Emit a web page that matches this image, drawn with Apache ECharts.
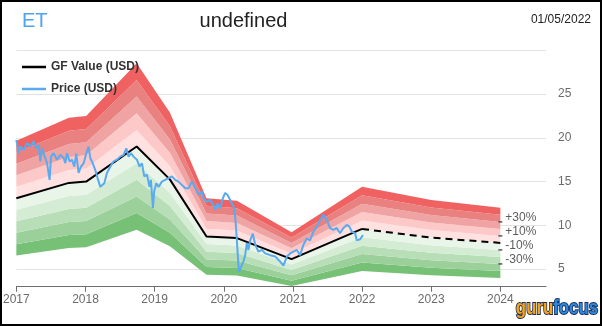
<!DOCTYPE html>
<html>
<head>
<meta charset="utf-8">
<script src="https://cdn.jsdelivr.net/npm/echarts@6/dist/echarts.min.js"></script>
<style>
  html, body { margin: 0; padding: 0; background: #fff; }
  #wrap { position: relative; width: 602px; height: 326px; }
  #chart { position: absolute; left: 0; top: 0; width: 602px; height: 326px; }
  #frame { position: absolute; left: 0; top: 0; width: 602px; height: 326px;
           box-sizing: border-box; border: 2px solid #000; pointer-events: none; }
</style>
</head>
<body>
<div id="wrap">
  <div id="chart"></div>
  <div id="frame"></div>
</div>
<script>
// Ticker, heading and snapshot date
const ticker = 'ET';
const heading = 'undefined';
const asOfDate = '01/05/2022';

// GF Value history (decimal years) and its projection
const gfYears = [2017.0, 2017.76, 2018.01, 2018.74, 2019.22, 2019.75, 2020.19, 2020.98, 2022.0];
const gfValues = [13.1, 14.85, 15.0, 19.0, 15.25, 8.74, 8.55, 6.15, 9.6];
const gfProjYears = [2022.0, 2023.0, 2024.0];
const gfProjValues = [9.6, 8.6, 8.0];

// Share price (decimal years / USD)
const priceYears = [
  2017.000, 2017.033, 2017.058, 2017.105, 2017.155, 2017.202, 2017.250, 2017.289, 2017.322, 2017.347,
  2017.371, 2017.395, 2017.444, 2017.481, 2017.501, 2017.539, 2017.588, 2017.636, 2017.684, 2017.708,
  2017.733, 2017.770, 2017.805, 2017.838, 2017.867, 2017.900, 2017.935, 2017.973, 2018.012, 2018.045,
  2018.069, 2018.094, 2018.142, 2018.175, 2018.214, 2018.238, 2018.272, 2018.311, 2018.358, 2018.406,
  2018.455, 2018.503, 2018.551, 2018.590, 2018.623, 2018.658, 2018.695, 2018.744, 2018.782, 2018.816,
  2018.850, 2018.889, 2018.926, 2018.946, 2018.975, 2018.994, 2019.023, 2019.056, 2019.105, 2019.153,
  2019.201, 2019.250, 2019.298, 2019.345, 2019.395, 2019.442, 2019.490, 2019.539, 2019.587, 2019.634,
  2019.684, 2019.707, 2019.746, 2019.803, 2019.851, 2019.876, 2019.909, 2019.948, 2019.987, 2020.020,
  2020.053, 2020.092, 2020.140, 2020.165, 2020.179, 2020.198, 2020.218, 2020.237, 2020.262, 2020.285,
  2020.309, 2020.334, 2020.357, 2020.382, 2020.420, 2020.454, 2020.501, 2020.551, 2020.598, 2020.671,
  2020.743, 2020.815, 2020.863, 2020.912, 2020.960, 2021.007, 2021.056, 2021.104, 2021.152, 2021.201,
  2021.249, 2021.296, 2021.345, 2021.393, 2021.441, 2021.490, 2021.538, 2021.585, 2021.634, 2021.682,
  2021.730, 2021.779, 2021.816, 2021.851, 2021.899, 2021.923, 2021.971, 2022.013
];
const priceValues = [
  19.76, 18.24, 19.0, 18.6, 19.4, 19.0, 19.6, 18.8, 19.2, 17.3,
  18.8, 18.2, 17.1, 15.2, 17.85, 18.24, 17.5, 18.05, 17.7, 17.1,
  18.24, 17.3, 17.5, 16.7, 18.2, 16.0, 16.7, 17.1, 18.24, 19.0,
  17.7, 17.3, 16.3, 15.4, 14.4, 14.2, 14.8, 16.0, 16.7, 17.3,
  17.5, 17.85, 18.05, 18.8, 17.85, 18.24, 17.85, 17.5, 16.7, 17.1,
  15.6, 15.8, 14.4, 15.2, 12.0, 13.9, 14.8, 14.4, 15.0, 15.2,
  15.4, 15.6, 15.2, 15.0, 14.6, 14.25, 14.25, 15.0, 14.25, 13.5,
  13.86, 13.1, 12.7, 12.9, 12.3, 11.8, 12.5, 11.96, 13.1, 13.7,
  13.5, 12.9, 12.15, 11.0, 9.5, 7.2, 4.7, 4.9, 5.5, 5.9,
  6.6, 8.0, 7.2, 8.3, 9.05, 7.8, 7.0, 7.2, 6.8, 6.6,
  6.44, 5.87, 5.4, 6.44, 6.8, 7.0, 7.2, 6.6, 7.8, 8.5,
  8.3, 9.3, 9.86, 10.6, 11.2, 10.6, 9.7, 9.5, 9.7, 9.1,
  9.7, 10.06, 9.86, 9.3, 9.1, 8.3, 8.4, 8.9
];

// Valuation bands: multiples of GF Value from 0.5x to 1.5x in 0.1 steps
const bandBase = 0.5;
const bandStep = 0.1;
const bandColors = [
  '#77c177', '#9bd09b', '#b7deb7', '#d3ecd3', '#e9f5e9',
  '#ffe1e1', '#fcc8c8', '#f0a3a3', '#e98181', '#f06262'
];
const bandLabelFactors = [1.3, 1.1, 0.9, 0.7];
const bandLabels = ['+30%', '+10%', '-10%', '-30%'];

// Axis ticks
const yearTicks = [2017, 2018, 2019, 2020, 2021, 2022, 2023, 2024];
const valueTicks = [5, 10, 15, 20, 25];
const xStart = 2017;
const xEnd = 2024.66;

const chart = echarts.init(document.getElementById('chart'), null, { renderer: 'canvas' });

// Combined GF node list used for the band envelope
const bandYears = gfYears.concat(gfProjYears.slice(1));
const bandGf = gfValues.concat(gfProjValues.slice(1));

// Band rows are stored as [value, year] so the stack runs on the value dimension
const bandSeries = [{
  name: 'band-base', type: 'line', stack: 'bands', symbol: 'none', silent: true,
  encode: { x: 1, y: 0 },
  lineStyle: { opacity: 0 },
  data: bandYears.map((y, i) => [bandGf[i] * bandBase, y])
}];
bandColors.forEach((c, k) => {
  bandSeries.push({
    name: 'band-' + k, type: 'line', stack: 'bands', symbol: 'none', silent: true,
    encode: { x: 1, y: 0 },
    lineStyle: { opacity: 0 },
    areaStyle: { color: c, opacity: 1 },
    data: bandYears.map((y, i) => [bandGf[i] * bandStep, y])
  });
});

const lastYear = gfProjYears[gfProjYears.length - 1];
const lastGf = gfProjValues[gfProjValues.length - 1];

const font = 'Arial, "Liberation Sans", sans-serif';

chart.setOption({
  animation: false,
  textStyle: { fontFamily: font },
  grid: { left: 16, right: 56, top: 50.2, bottom: 39.3, containLabel: false },
  xAxis: {
    type: 'value', min: xStart, max: xEnd,
    axisLine: { show: true, lineStyle: { color: '#6e6e6e', width: 1 } },
    axisTick: { show: true, length: 5, customValues: yearTicks, lineStyle: { color: '#6e6e6e' } },
    axisLabel: { customValues: yearTicks, color: '#6b6b6b', fontSize: 12, margin: 7,
                 formatter: v => String(v) },
    splitLine: { show: false }
  },
  yAxis: {
    type: 'value', position: 'right', min: 3, max: 30,
    axisLine: { show: false }, axisTick: { show: false },
    axisLabel: { customValues: valueTicks, color: '#6b6b6b', fontSize: 12, margin: 12 },
    splitLine: { show: true, lineStyle: { color: '#e3e3e3', width: 1 } }
  },
  legend: {
    orient: 'vertical', left: 22, top: 60, padding: 0, itemWidth: 24, itemHeight: 2.5, itemGap: 8,
    icon: 'rect',
    textStyle: { fontSize: 12, fontWeight: 'bold', color: '#333', lineHeight: 14 },
    data: ['GF Value (USD)', 'Price (USD)'],
    selectedMode: false
  },
  graphic: [
    { type: 'text', left: 22, top: 11, style: { text: ticker, fill: '#4ea3f1', font: '20px ' + font } },
    { type: 'text', x: 243.5, y: 21, style: { text: heading, fill: '#222', font: '20px ' + font,
      textAlign: 'center', textVerticalAlign: 'middle' } },
    { type: 'text', x: 591, y: 19.5, style: { text: asOfDate, fill: '#222', font: '12px ' + font,
      textAlign: 'right', textVerticalAlign: 'middle' } },
    // brand mark, horizontally condensed
    { type: 'text', x: 598, y: 308, scaleX: 0.8, scaleY: 1,
      style: {
        text: '{g|guru}{f|focus}', textAlign: 'right', textVerticalAlign: 'middle',
        rich: {
          g: { fill: '#f5a317', stroke: '#1c2f5e', lineWidth: 2, font: 'bold 21px ' + font },
          f: { fill: '#2d87da', stroke: '#1c2f5e', lineWidth: 2, font: 'bold 21px ' + font }
        }
      } }
  ],
  series: bandSeries.concat([
    {
      name: 'GF Value (USD)', type: 'line', symbol: 'none', z: 5,
      color: '#000', lineStyle: { color: '#000', width: 2 },
      data: gfYears.map((y, i) => [y, gfValues[i]])
    },
    {
      name: 'GF Projection', type: 'line', symbol: 'none', z: 5,
      lineStyle: { color: '#000', width: 2, type: [7, 5] },
      data: gfProjYears.map((y, i) => [y, gfProjValues[i]])
    },
    {
      name: 'Price (USD)', type: 'line', symbol: 'none', z: 6,
      color: '#5aaaf0', lineStyle: { color: '#5aaaf0', width: 2 },
      data: priceYears.map((y, i) => [y, priceValues[i]])
    },
    {
      name: 'Band Labels', type: 'scatter', z: 7, silent: true,
      symbol: 'rect', symbolSize: [4, 1.5],
      itemStyle: { color: '#333' },
      label: {
        show: true, position: 'right', distance: 3, offset: [0, -4],
        color: '#333', fontSize: 12,
        formatter: p => bandLabels[p.dataIndex]
      },
      data: bandLabelFactors.map(f => [lastYear, lastGf * f])
    }
  ])
});
</script>
</body>
</html>
